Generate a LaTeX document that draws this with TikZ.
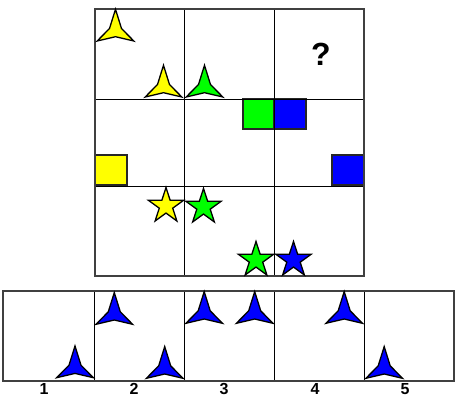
\documentclass[tikz,border=0pt]{standalone}
\usepackage{fontspec}
\setmainfont{Liberation Sans}
\usetikzlibrary{shapes.geometric}
\definecolor{yel}{RGB}{255,255,0}
\definecolor{grn}{RGB}{0,255,0}
\definecolor{blu}{RGB}{0,0,255}
\begin{document}
\begin{tikzpicture}[x=1pt,y=-1pt,
  outerbox/.style={draw=black!75,line width=2pt},
  innerline/.style={draw=black,line width=1pt},
  prong/.pic={\path[pic actions] (0,-31.7) -- (6,-12.5) -- (18.3,0) -- (0,-4.3) -- (-18.3,0) -- (-6,-12.5) -- cycle;},
  shapeline/.style={draw=black,line width=1.3pt,line join=miter},
  starnode/.style={star,star points=5,star point ratio=2.618,minimum size=37pt,inner sep=0pt,draw=black,line width=1.3pt},
  sq/.style={draw=black!85,line width=1.2pt},
  lbl/.style={font=\bfseries\fontsize{16}{16}\selectfont,inner sep=0pt}]
\useasboundingbox (0,0) rectangle (458,416);
% squares
\path[sq,fill=grn] (243,99) rectangle (274,129);
\path[sq,fill=blu] (274,99) rectangle (306,129);
\path[sq,fill=yel] (95,155) rectangle (127,185);
\path[sq,fill=blu] (332,155) rectangle (364,185);
% top grid
\draw[innerline] (184,9) -- (184,276) (274,9) -- (274,276) (95,99) -- (364,99) (95,186) -- (364,186);
\draw[outerbox] (95,9) rectangle (364,276);
% bottom row
\draw[innerline] (94,291) -- (94,381) (184,291) -- (184,381) (274,291) -- (274,381) (364,291) -- (364,381);
\draw[outerbox] (3,291) rectangle (454,381);
% prongs in matrix
\pic[fill=yel,shapeline] at (115.5,41) {prong};
\pic[fill=yel,shapeline] at (163.5,97) {prong};
\pic[fill=grn,shapeline] at (204.5,97) {prong};
% stars
\node[starnode,fill=yel] (s1) at (166,206) {};
\node[starnode,fill=grn] (s2) at (203.5,207) {};
\node[starnode,fill=grn] (s3) at (256,260) {};
\node[starnode,fill=blu] (s4) at (293.5,260) {};
% question mark
\node[font=\bfseries\fontsize{32}{32}\selectfont,inner sep=0pt] (q) at (321,54) {?};
% answer prongs
\pic[fill=blu,shapeline] at (75,377.7) {prong};
\pic[fill=blu,shapeline] at (114.3,324.3) {prong};
\pic[fill=blu,shapeline] at (164.7,378.3) {prong};
\pic[fill=blu,shapeline] at (204.2,323.3) {prong};
\pic[fill=blu,shapeline] at (254.7,323.3) {prong};
\pic[fill=blu,shapeline] at (344.2,323.3) {prong};
\pic[fill=blu,shapeline] at (384.2,378.3) {prong};
% labels
\node[lbl] (l1) at (44,389) {1};
\node[lbl] (l2) at (134,389) {2};
\node[lbl] (l3) at (224,389) {3};
\node[lbl] (l4) at (315,389) {4};
\node[lbl] (l5) at (405,389) {5};
\end{tikzpicture}
\end{document}
